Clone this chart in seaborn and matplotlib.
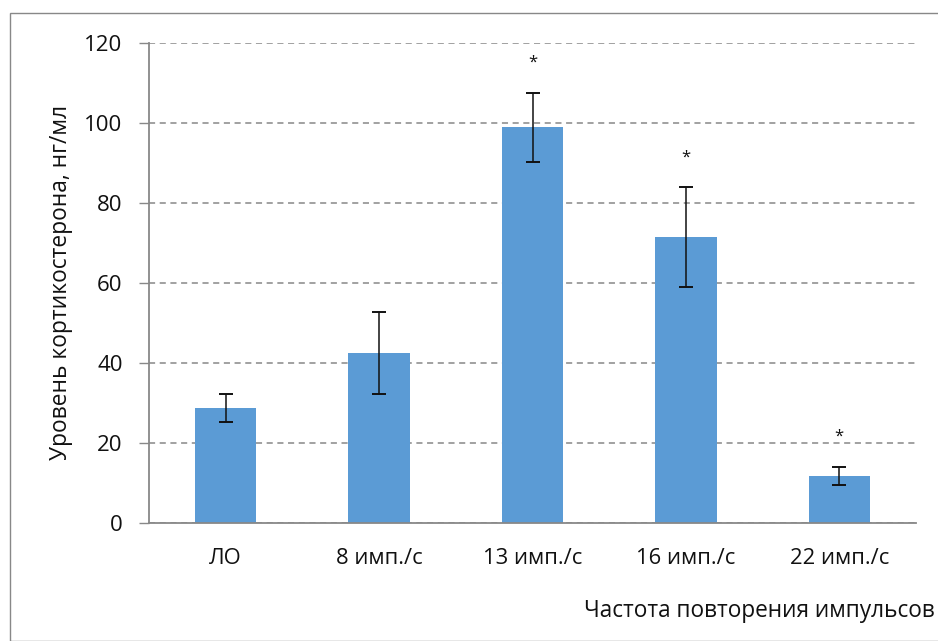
import matplotlib
matplotlib.use("Agg")
import matplotlib.pyplot as plt
from matplotlib.patches import Rectangle
import seaborn as sns
import pandas as pd

categories = ["ЛО", "8 имп./с", "13 имп./с", "16 имп./с", "22 имп./с"]
means = [28.7, 42.4, 98.8, 71.4, 11.7]
errors = [3.6, 10.3, 8.6, 12.4, 2.3]
significant = [False, False, True, True, True]
yticks = [0, 20, 40, 60, 80, 100, 120]

sns.set_theme(style="white")
plt.rcParams["font.family"] = ["Open Sans", "DejaVu Sans"]

W, H = 938, 641
fig = plt.figure(figsize=(W / 100, H / 100), dpi=100)
ax = fig.add_axes([149 / W, 1 - 522.7 / H, (916 - 149) / W, (522.7 - 42.7) / H])

df = pd.DataFrame({"cat": categories, "val": means})
sns.barplot(data=df, x="cat", y="val", color="#5B9BD5", saturation=1,
            width=0.4, ax=ax, errorbar=None)
for p in ax.patches:
    p.set_edgecolor("none")

xs = list(range(len(categories)))
ax.errorbar(xs, means, yerr=errors, fmt="none", ecolor="#111111",
            elinewidth=1.1, capsize=4.8, capthick=1.4, zorder=5)

for x, m, e, s in zip(xs, means, errors, significant):
    if s:
        ax.text(x, m + e + 7.5, "*", ha="center", va="center",
                fontsize=12, color="#111111")

ax.set_xlim(-0.5, len(categories) - 0.5)
ax.set_ylim(0, 120)
ax.set_yticks(yticks)
ax.set_yticklabels([str(v) for v in yticks], fontsize=16, color="#111111")
ax.tick_params(axis="y", which="major", direction="out", length=7,
               width=1, color="#888888", pad=12, left=True)
ax.tick_params(axis="x", length=0, pad=18, labelsize=15.8, labelcolor="#111111")

ax.yaxis.grid(True, linestyle=(0, (4, 3)), color="#888888", linewidth=1.1)
ax.set_axisbelow(True)
for side in ["top", "right"]:
    ax.spines[side].set_visible(False)
for side in ["left", "bottom"]:
    ax.spines[side].set_color("#888888")
    ax.spines[side].set_linewidth(1.3)

ax.set_xlabel("")
ax.set_ylabel("")
fig.text(61 / W, 1 - 282.7 / H, "Уровень кортикостерона, нг/мл", rotation=90,
         ha="center", va="center", fontsize=16.4, color="#111111")
fig.text(935 / W, 1 - 611 / H, "Частота повторения импульсов",
         ha="right", va="center", fontsize=16.3, color="#111111")

# outer chart frame
fig.patches.append(Rectangle((10 / W, 0), 1.2, 1 - 13 / H, transform=fig.transFigure,
                             fill=False, edgecolor="#888888", linewidth=1.0))

fig.savefig("out.png", dpi=100)
